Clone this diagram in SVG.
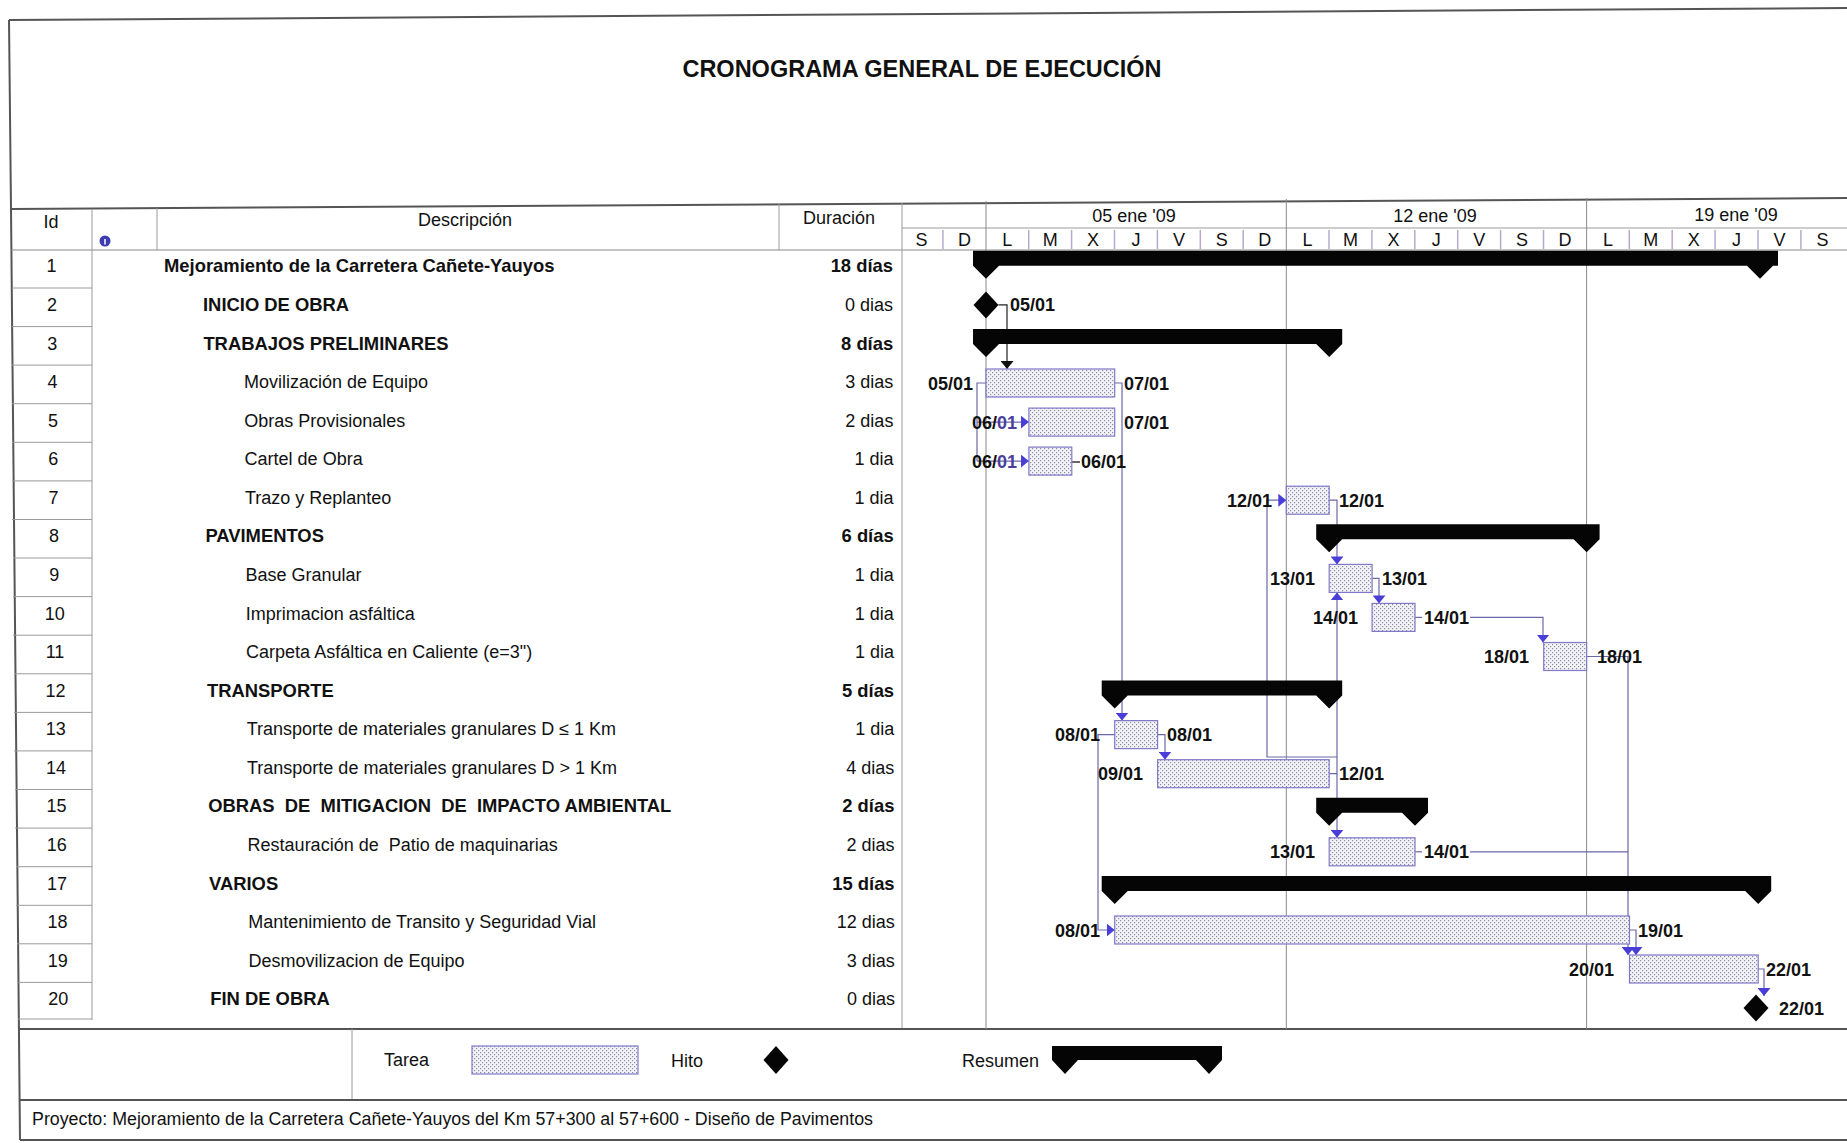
<svg xmlns="http://www.w3.org/2000/svg" width="1847" height="1143" viewBox="0 0 1847 1143">
<defs>
<pattern id="dots" width="4" height="4" patternUnits="userSpaceOnUse"><rect width="4" height="4" fill="#f3f3f7"/><rect x="0" y="0" width="1.2" height="1.2" fill="#8e8ea2"/><rect x="2" y="2" width="1.2" height="1.2" fill="#8e8ea2"/></pattern>
<marker id="ap" viewBox="0 0 8 13" refX="8" refY="6.5" markerWidth="8" markerHeight="13" markerUnits="userSpaceOnUse" orient="auto"><path d="M0,0 L8,6.5 L0,13 Z" fill="#4a3ed8"/></marker>
<marker id="ak" viewBox="0 0 8 13" refX="8" refY="6.5" markerWidth="8" markerHeight="13" markerUnits="userSpaceOnUse" orient="auto"><path d="M0,0 L8,6.5 L0,13 Z" fill="#111"/></marker>
</defs>
<style>
text{font-family:"Liberation Sans",Arial,sans-serif;fill:#111}
.t{font-size:18px}
.b{font-weight:bold;font-size:18.4px}
.h{font-size:18px}
.d{font-size:18px;font-weight:bold}
.r{text-anchor:end}
.m{text-anchor:middle}
.bar{fill:url(#dots);stroke:#8078c8;stroke-width:1.2}
.sum{fill:#050505}
.ms{fill:#050505}
.grid{stroke:#8a8a8a;stroke-width:1;fill:none}
.frame{stroke:#555;stroke-width:2;fill:none}
.thin{stroke:#9a9a9a;stroke-width:1;fill:none}
.tick{stroke:#b8a8d0;stroke-width:1.5}
.c{stroke:#6c68a8;stroke-width:1.2;fill:none}
.ck{stroke:#222;stroke-width:1.2;fill:none}
</style>
<rect width="1847" height="1143" fill="#fff"/>

<g id="frame">
<line x1="9" y1="20" x2="1847" y2="8" class="frame"/>
<polyline points="9,20 11,209 20,1140" class="frame"/>
<line x1="11" y1="209" x2="1847" y2="198" class="frame" stroke-width="2.5"/>
<line x1="11" y1="250" x2="1847" y2="250" class="grid" stroke="#777"/>
<line x1="92" y1="209" x2="92" y2="1020" class="thin"/>
<line x1="157" y1="208" x2="157" y2="250" class="thin"/>
<line x1="779" y1="204" x2="779" y2="250" class="thin"/>
<line x1="902" y1="203" x2="902" y2="1028" class="thin" stroke="#888"/>
<line x1="902" y1="228" x2="1847" y2="228" class="thin" stroke="#bbb"/>
<g class="thin">
<line x1="12" y1="288" x2="92" y2="288"/><line x1="12" y1="326.6" x2="92" y2="326.6"/><line x1="12" y1="365.1" x2="92" y2="365.1"/><line x1="12" y1="403.7" x2="92" y2="403.7"/><line x1="12" y1="442.3" x2="92" y2="442.3"/><line x1="12" y1="480.9" x2="92" y2="480.9"/><line x1="12" y1="519.5" x2="92" y2="519.5"/><line x1="13" y1="558" x2="92" y2="558"/><line x1="13" y1="596.6" x2="92" y2="596.6"/><line x1="13" y1="635.2" x2="92" y2="635.2"/><line x1="14" y1="673.8" x2="92" y2="673.8"/><line x1="14" y1="712.4" x2="92" y2="712.4"/><line x1="14" y1="750.9" x2="92" y2="750.9"/><line x1="15" y1="789.5" x2="92" y2="789.5"/><line x1="15" y1="828.1" x2="92" y2="828.1"/><line x1="16" y1="866.7" x2="92" y2="866.7"/><line x1="16" y1="905.3" x2="92" y2="905.3"/><line x1="17" y1="943.8" x2="92" y2="943.8"/><line x1="17" y1="982.4" x2="92" y2="982.4"/><line x1="18" y1="1019" x2="92" y2="1019"/>
</g>
<line x1="18" y1="1029" x2="1847" y2="1029" class="frame" stroke-width="2.5"/>
<line x1="352" y1="1029" x2="352" y2="1100" class="thin" stroke="#777"/>
<line x1="19" y1="1100" x2="1847" y2="1100" class="frame" stroke-width="1.5"/>
<line x1="20" y1="1140" x2="1847" y2="1140" class="frame" stroke-width="1.5"/>
</g>

<g id="title"><text x="922" y="77" class="m" font-weight="bold" font-size="23.5">CRONOGRAMA GENERAL DE EJECUCIÓN</text></g>

<g id="header">
<text x="51" y="228" class="h m">Id</text>
<circle cx="105" cy="241" r="5.5" fill="#3c3cb0"/><line x1="105" y1="239" x2="105" y2="244.5" stroke="#fff" stroke-width="1.5"/>
<text x="465" y="226" class="h m">Descripción</text>
<text x="839" y="224" class="h m">Duración</text>
<g class="grid">
<line x1="986" y1="201" x2="986" y2="1029"/><line x1="1286.3" y1="199" x2="1286.3" y2="1029"/><line x1="1586.6" y1="198" x2="1586.6" y2="1029"/>
</g>
<g class="tick">
<line x1="942.9" y1="230" x2="942.9" y2="249"/><line x1="1028.7" y1="230" x2="1028.7" y2="249"/><line x1="1071.6" y1="230" x2="1071.6" y2="249"/><line x1="1114.5" y1="230" x2="1114.5" y2="249"/><line x1="1157.4" y1="230" x2="1157.4" y2="249"/><line x1="1200.3" y1="230" x2="1200.3" y2="249"/><line x1="1243.2" y1="230" x2="1243.2" y2="249"/><line x1="1329" y1="230" x2="1329" y2="249"/><line x1="1371.9" y1="230" x2="1371.9" y2="249"/><line x1="1414.8" y1="230" x2="1414.8" y2="249"/><line x1="1457.7" y1="230" x2="1457.7" y2="249"/><line x1="1500.6" y1="230" x2="1500.6" y2="249"/><line x1="1543.5" y1="230" x2="1543.5" y2="249"/><line x1="1629.3" y1="230" x2="1629.3" y2="249"/><line x1="1672.2" y1="230" x2="1672.2" y2="249"/><line x1="1715.1" y1="230" x2="1715.1" y2="249"/><line x1="1758" y1="230" x2="1758" y2="249"/><line x1="1800.9" y1="230" x2="1800.9" y2="249"/>
</g>
<text x="1134" y="222" class="h m">05 ene '09</text>
<text x="1435" y="222" class="h m">12 ene '09</text>
<text x="1736" y="221" class="h m">19 ene '09</text>
<g>
<text x="921.5" y="245.5" class="h m">S</text><text x="964.4" y="245.5" class="h m">D</text><text x="1007.3" y="245.5" class="h m">L</text><text x="1050.2" y="245.5" class="h m">M</text><text x="1093.1" y="245.5" class="h m">X</text><text x="1136" y="245.5" class="h m">J</text><text x="1178.9" y="245.5" class="h m">V</text><text x="1221.8" y="245.5" class="h m">S</text><text x="1264.7" y="245.5" class="h m">D</text><text x="1307.6" y="245.5" class="h m">L</text><text x="1350.5" y="245.5" class="h m">M</text><text x="1393.4" y="245.5" class="h m">X</text><text x="1436.3" y="245.5" class="h m">J</text><text x="1479.2" y="245.5" class="h m">V</text><text x="1522.1" y="245.5" class="h m">S</text><text x="1565" y="245.5" class="h m">D</text><text x="1607.9" y="245.5" class="h m">L</text><text x="1650.8" y="245.5" class="h m">M</text><text x="1693.7" y="245.5" class="h m">X</text><text x="1736.6" y="245.5" class="h m">J</text><text x="1779.5" y="245.5" class="h m">V</text><text x="1822.4" y="245.5" class="h m">S</text>
</g>
</g>

<g id="connectors">
<path d="M998.5,304.9 H1007 V369" class="ck" marker-end="url(#ak)"/>
<path d="M986,383 H977 V461.1" class="c"/>
<path d="M977,422.1 H1028.9" class="c" marker-end="url(#ap)"/>
<path d="M977,461.1 H1028.9" class="c" marker-end="url(#ap)"/>
<path d="M1029,462 H1080" stroke="#333" stroke-width="1.5"/>
<path d="M1114.7,383 H1122 V720.6" class="c" marker-end="url(#ap)"/>
<path d="M1157.6,734.6 H1165 V759.7" class="c" marker-end="url(#ap)"/>
<path d="M1114.7,734.6 H1098 V930 H1114.7" class="c" marker-end="url(#ap)"/>
<path d="M1329.2,500.2 H1337 V564.4" class="c" marker-end="url(#ap)"/>
<path d="M1372.1,578.4 H1379 V603.4" class="c" marker-end="url(#ap)"/>
<path d="M1415,617.4 H1422" class="c"/>
<path d="M1470,617.4 H1543 V642.5" class="c" marker-end="url(#ap)"/>
<path d="M1329.2,773.7 H1337 V592.4" class="c" marker-end="url(#ap)"/>
<path d="M1337,773.7 V837.8" class="c" marker-end="url(#ap)"/>
<path d="M1337,757 H1267 V500.2 H1286.3" class="c" marker-end="url(#ap)"/>
<path d="M1586.6,656.5 H1628 V955" class="c" marker-end="url(#ap)"/>
<path d="M1415,851.8 H1422" class="c"/>
<path d="M1470,851.8 H1628" class="c"/>
<path d="M1629.5,930 H1636 V955" class="c" marker-end="url(#ap)"/>
<path d="M1758.2,969 H1764 V996" class="c" marker-end="url(#ap)"/>
</g>

<g id="task-1">
<text x="51.5" y="272.3" class="t m">1</text>
<text x="164" y="272.3" class="t b">Mejoramiento de la Carretera Cañete-Yauyos</text>
<text x="893" y="272.3" class="t b r">18 días</text>
<path class="sum" d="M973,250.8 H1778 V265.8 H1773 L1760,278.8 L1747,265.8 H999 L986,278.8 L973,265.8 Z"/>
</g>
<g id="task-2">
<text x="51.9" y="310.9" class="t m">2</text>
<text x="203" y="310.9" class="t b">INICIO DE OBRA</text>
<text x="893" y="310.9" class="t r">0 dias</text>
<path class="ms" d="M986,291.4 L998.5,304.9 L986,318.4 L973.5,304.9 Z"/>
<text x="1010" y="311.4" class="d">05/01</text>
</g>
<g id="task-3">
<text x="52.2" y="349.5" class="t m">3</text>
<text x="203.4" y="349.5" class="t b">TRABAJOS PRELIMINARES</text>
<text x="893.2" y="349.5" class="t b r">8 días</text>
<path class="sum" d="M973,328.9 H1342.2 V343.9 L1329.2,356.9 L1316.2,343.9 H999 L986,356.9 L973,343.9 Z"/>
</g>
<g id="task-4">
<text x="52.6" y="388" class="t m">4</text>
<text x="244" y="388" class="t">Movilización de Equipo</text>
<text x="893.3" y="388" class="t r">3 dias</text>
<rect class="bar" x="986" y="369" width="128.7" height="28"/>
<text x="973" y="389.5" class="d r">05/01</text>
<text x="1124" y="389.5" class="d">07/01</text>
</g>
<g id="task-5">
<text x="52.9" y="426.6" class="t m">5</text>
<text x="244.3" y="426.6" class="t">Obras Provisionales</text>
<text x="893.4" y="426.6" class="t r">2 dias</text>
<rect class="bar" x="1028.9" y="408.1" width="85.8" height="28"/>
<text x="1017" y="428.6" class="d r">06/<tspan fill="#4a3f9c">01</tspan></text>
<text x="1124" y="428.6" class="d">07/01</text>
</g>
<g id="task-6">
<text x="53.3" y="465.2" class="t m">6</text>
<text x="244.6" y="465.2" class="t">Cartel de Obra</text>
<text x="893.5" y="465.2" class="t r">1 dia</text>
<rect class="bar" x="1028.9" y="447.1" width="42.9" height="28"/>
<text x="1017" y="467.6" class="d r">06/<tspan fill="#4a3f9c">01</tspan></text>
<text x="1081" y="467.6" class="d">06/01</text>
</g>
<g id="task-7">
<text x="53.6" y="503.8" class="t m">7</text>
<text x="244.9" y="503.8" class="t">Trazo y Replanteo</text>
<text x="893.6" y="503.8" class="t r">1 dia</text>
<rect class="bar" x="1286.3" y="486.2" width="42.9" height="28"/>
<text x="1272" y="506.7" class="d r">12/01</text>
<text x="1339" y="506.7" class="d">12/01</text>
</g>
<g id="task-8">
<text x="54" y="542.4" class="t m">8</text>
<text x="205.4" y="542.4" class="t b">PAVIMENTOS</text>
<text x="893.7" y="542.4" class="t b r">6 días</text>
<path class="sum" d="M1316.2,524.3 H1599.6 V539.3 L1586.6,552.3 L1573.6,539.3 H1342.2 L1329.2,552.3 L1316.2,539.3 Z"/>
</g>
<g id="task-9">
<text x="54.3" y="580.9" class="t m">9</text>
<text x="245.5" y="580.9" class="t">Base Granular</text>
<text x="893.8" y="580.9" class="t r">1 dia</text>
<rect class="bar" x="1329.2" y="564.4" width="42.9" height="28"/>
<text x="1315" y="584.9" class="d r">13/01</text>
<text x="1382" y="584.9" class="d">13/01</text>
</g>
<g id="task-10">
<text x="54.7" y="619.5" class="t m">10</text>
<text x="245.8" y="619.5" class="t">Imprimacion asfáltica</text>
<text x="893.9" y="619.5" class="t r">1 dia</text>
<rect class="bar" x="1372.1" y="603.4" width="42.9" height="28"/>
<text x="1358" y="623.9" class="d r">14/01</text>
<text x="1424" y="623.9" class="d">14/01</text>
</g>
<g id="task-11">
<text x="55" y="658.1" class="t m">11</text>
<text x="246.1" y="658.1" class="t">Carpeta Asfáltica en Caliente (e=3")</text>
<text x="894" y="658.1" class="t r">1 dia</text>
<rect class="bar" x="1543.7" y="642.5" width="42.9" height="28"/>
<text x="1529" y="663" class="d r">18/01</text>
<text x="1597" y="663" class="d">18/01</text>
</g>
<g id="task-12">
<text x="55.4" y="696.7" class="t m">12</text>
<text x="207" y="696.7" class="t b">TRANSPORTE</text>
<text x="894.1" y="696.7" class="t b r">5 días</text>
<path class="sum" d="M1101.7,680.6 H1342.2 V695.6 L1329.2,708.6 L1316.2,695.6 H1127.7 L1114.7,708.6 L1101.7,695.6 Z"/>
</g>
<g id="task-13">
<text x="55.7" y="735.3" class="t m">13</text>
<text x="246.7" y="735.3" class="t">Transporte de materiales granulares D ≤ 1 Km</text>
<text x="894.2" y="735.3" class="t r">1 dia</text>
<rect class="bar" x="1114.7" y="720.6" width="42.9" height="28"/>
<text x="1100" y="741.1" class="d r">08/01</text>
<text x="1167" y="741.1" class="d">08/01</text>
</g>
<g id="task-14">
<text x="56.1" y="773.8" class="t m">14</text>
<text x="247" y="773.8" class="t">Transporte de materiales granulares D &gt; 1 Km</text>
<text x="894.3" y="773.8" class="t r">4 dias</text>
<rect class="bar" x="1157.6" y="759.7" width="171.6" height="28"/>
<text x="1143" y="780.2" class="d r">09/01</text>
<text x="1339" y="780.2" class="d">12/01</text>
</g>
<g id="task-15">
<text x="56.4" y="812.4" class="t m">15</text>
<text x="208.2" y="812.4" class="t b" xml:space="preserve">OBRAS  DE  MITIGACION  DE  IMPACTO AMBIENTAL</text>
<text x="894.4" y="812.4" class="t b r">2 días</text>
<path class="sum" d="M1316.2,797.8 H1428 V812.8 L1415,825.8 L1402,812.8 H1342.2 L1329.2,825.8 L1316.2,812.8 Z"/>
</g>
<g id="task-16">
<text x="56.8" y="851" class="t m">16</text>
<text x="247.6" y="851" class="t" xml:space="preserve">Restauración de  Patio de maquinarias</text>
<text x="894.5" y="851" class="t r">2 dias</text>
<rect class="bar" x="1329.2" y="837.8" width="85.8" height="28"/>
<text x="1315" y="858.3" class="d r">13/01</text>
<text x="1424" y="858.3" class="d">14/01</text>
</g>
<g id="task-17">
<text x="57.1" y="889.6" class="t m">17</text>
<text x="209" y="889.6" class="t b">VARIOS</text>
<text x="894.6" y="889.6" class="t b r">15 días</text>
<path class="sum" d="M1101.7,875.9 H1771.2 V890.9 L1758.2,903.9 L1745.2,890.9 H1127.7 L1114.7,903.9 L1101.7,890.9 Z"/>
</g>
<g id="task-18">
<text x="57.5" y="928.2" class="t m">18</text>
<text x="248.2" y="928.2" class="t">Mantenimiento de Transito y Seguridad Vial</text>
<text x="894.7" y="928.2" class="t r">12 dias</text>
<rect class="bar" x="1114.7" y="916" width="514.8" height="28"/>
<text x="1100" y="936.5" class="d r">08/01</text>
<text x="1638" y="936.5" class="d">19/01</text>
</g>
<g id="task-19">
<text x="57.8" y="966.7" class="t m">19</text>
<text x="248.5" y="966.7" class="t">Desmovilizacion de Equipo</text>
<text x="894.8" y="966.7" class="t r">3 dias</text>
<rect class="bar" x="1629.5" y="955" width="128.7" height="28"/>
<text x="1614" y="975.5" class="d r">20/01</text>
<text x="1766" y="975.5" class="d">22/01</text>
</g>
<g id="task-20">
<text x="58.2" y="1005.3" class="t m">20</text>
<text x="210.2" y="1005.3" class="t b">FIN DE OBRA</text>
<text x="895" y="1005.3" class="t r">0 dias</text>
<path class="ms" d="M1756,994.6 L1768.5,1008.1 L1756,1021.6 L1743.5,1008.1 Z"/>
<text x="1779" y="1014.6" class="d">22/01</text>
</g>

<g id="legend">
<text x="384" y="1066" class="h">Tarea</text>
<rect class="bar" x="472" y="1046" width="166" height="28"/>
<text x="671" y="1067" class="h">Hito</text>
<path class="ms" d="M776,1046 L788.5,1060 L776,1074 L763.5,1060 Z"/>
<text x="962" y="1067" class="h">Resumen</text>
<path class="sum" d="M1052,1046 H1222 V1060 L1209,1074 L1196,1060 H1078 L1065,1074 L1052,1060 Z"/>
</g>

<g id="footer">
<text x="32" y="1125" font-size="17.5" textLength="841" lengthAdjust="spacingAndGlyphs">Proyecto: Mejoramiento de la Carretera Cañete-Yauyos del Km 57+300 al 57+600 - Diseño de Pavimentos</text>
</g>
</svg>
